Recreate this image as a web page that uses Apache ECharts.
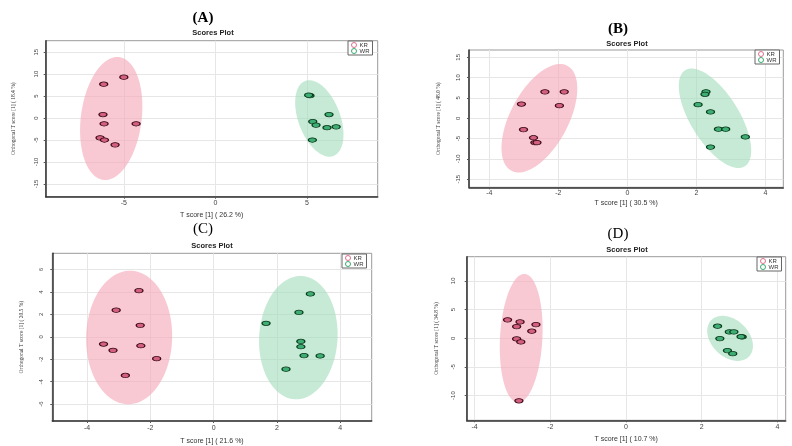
<!DOCTYPE html>
<html>
<head>
<meta charset="utf-8">
<script src="https://cdn.jsdelivr.net/npm/echarts@6/dist/echarts.min.js"></script>
<style>
html,body{margin:0;padding:0;background:#fff;}
#main{width:792px;height:446px;}
</style>
</head>
<body>
<div id="main"></div>
<script>
// scores, [t score, orthogonal t score]
var aKR = [[-5.0,9.3],[-6.1,7.7],[-6.14,0.8],[-6.08,-1.3],[-4.33,-1.3],[-6.3,-4.5],[-6.06,-5.0],[-5.48,-6.1]];
var aWR = [[5.17,5.1],[5.1,5.2],[6.21,0.8],[5.32,-0.8],[5.5,-1.6],[6.1,-2.2],[6.6,-2.0],[5.3,-5.0]];
var bKR = [[-2.39,6.5],[-1.83,6.5],[-3.07,3.5],[-1.97,3.1],[-3.01,-2.8],[-2.72,-4.8],[-2.68,-6.0],[-2.62,-6.0]];
var bWR = [[2.28,6.5],[2.25,5.9],[2.05,3.35],[2.41,1.55],[2.64,-2.7],[2.85,-2.7],[3.42,-4.6],[2.41,-7.1]];
var cKR = [[-2.36,4.12],[-3.08,2.38],[-2.32,1.03],[-3.48,-0.64],[-2.3,-0.79],[-3.18,-1.2],[-1.8,-1.94],[-2.79,-3.44]];
var cWR = [[3.06,3.83],[2.7,2.18],[1.66,1.21],[2.76,-0.41],[2.76,-0.88],[2.86,-1.67],[3.37,-1.7],[2.29,-2.88]];
var dKR = [[-3.13,3.2],[-2.8,2.84],[-2.38,2.38],[-2.89,2.03],[-2.49,1.22],[-2.89,-0.12],[-2.78,-0.64],[-2.83,-10.9]];
var dWR = [[2.42,2.09],[2.73,1.1],[2.85,1.1],[3.07,0.23],[3.04,0.26],[2.48,-0.07],[2.68,-2.16],[2.82,-2.69]];

// confidence ellipses: [cx, cy, rx, ry, shear]
var aEll = [[-5.69,-0.1,1.67,14.0,0.33],[5.68,-0.1,1.2,8.7,-0.55]];
var bEll = [[-2.55,0,0.92,13.35,0.6],[2.54,0,0.8,12.25,-0.68]];
var cEll = [[-2.67,-0.05,1.36,5.95,0.03],[2.68,-0.07,1.24,5.5,0.07]];
var dEll = [[-2.77,0,0.56,11.2,0.08],[2.75,-0.03,0.57,3.93,-0.2]];

var labels = ['(A)','(B)','(C)','(D)'];
var xNames = ['T score [1] ( 26.2 %)','T score [1] ( 30.5 %)','T score [1] ( 21.6 %)','T score [1] ( 10.7 %)'];
var yNames = ['Orthogonal T score [1] ( 18.4 %)','Orthogonal T score [1] ( 48.0 %)','Orthogonal T score [1] ( 20.5 %)','Orthogonal T score [1] ( 34.8 %)'];
var xTicks = [[-5,0,5],[-4,-2,0,2,4],[-4,-2,0,2,4],[-4,-2,0,2,4]];
var yTicks = [[-15,-10,-5,0,5,10,15],[-15,-10,-5,0,5,10,15],[-6,-4,-2,0,2,4,6],[-10,-5,0,5,10]];
var xRange = [[-9.27,8.87],[-4.59,4.52],[-5.1,5.0],[-4.21,4.22]];
var yRange = [[-17.9,17.6],[-17.0,16.8],[-7.5,7.45],[-14.3,14.2]];

var kr = [aKR,bKR,cKR,dKR];
var wr = [aWR,bWR,cWR,dWR];
var ells = [aEll,bEll,cEll,dEll];

// layout of the four panels
var boxes = [
	{left:45.7, top:40.7, width:332, height:156},
	{left:469, top:50, width:314.3, height:137.3},
	{left:52.3, top:253.3, width:319.4, height:169.4},
	{left:466.7, top:256.7, width:319, height:163.6}
];
var lab = [{x:203,y:11},{x:618,y:22},{x:203,y:222},{x:618,y:227}];
var sub = [{x:213,y:29},{x:627,y:39.5},{x:212,y:242},{x:627,y:246}];
var leg = [{x:348,y:41},{x:755,y:50},{x:342,y:254},{x:757,y:257}];
var yNameGap = [29,27,28,27];
var yLabMargin = [6,8,8,10];
var xLabMargin = [3,2,4,3];
var xNameGap = [15,12,17,15];

var pinkFill = 'rgba(245,170,188,0.65)';
var greenFill = 'rgba(160,220,185,0.6)';

function ellipseItem(params, api){
	var cx = api.value(0), cy = api.value(1), rx = api.value(2), ry = api.value(3), k = api.value(4);
	var pts = [];
	for(var i=0;i<90;i++){
		var t = i/90*Math.PI*2;
		pts.push(api.coord([cx + rx*Math.cos(t) + k*Math.sin(t), cy + ry*Math.sin(t)]));
	}
	return {
		type:'polygon',
		shape:{points:pts},
		style:{fill: params.dataIndex == 0 ? pinkFill : greenFill}
	};
}

var grid = [], xAxis = [], yAxis = [], title = [], legend = [], series = [];
for(var p=0;p<4;p++){
	grid.push({left:boxes[p].left, top:boxes[p].top, width:boxes[p].width, height:boxes[p].height,
		show:true, borderColor:'#9a9a9a', borderWidth:1, backgroundColor:'#fff'});
	xAxis.push({
		gridIndex:p, type:'value', min:xRange[p][0], max:xRange[p][1],
		name:xNames[p], nameLocation:'middle', nameGap:xNameGap[p],
		nameTextStyle:{fontSize:7, color:'#333', fontFamily:'Liberation Sans'},
		axisLine:{show:true, onZero:false, lineStyle:{color:'#333', width:1.5}},
		axisTick:{show:true, length:2, customValues:xTicks[p], lineStyle:{color:'#555'}},
		axisLabel:{fontSize:7, color:'#444', margin:xLabMargin[p], customValues:xTicks[p], fontFamily:'Liberation Sans'},
		splitLine:{show:true, lineStyle:{color:'#e6e6e6', width:1}}
	});
	yAxis.push({
		gridIndex:p, type:'value', min:yRange[p][0], max:yRange[p][1],
		name:yNames[p], nameLocation:'middle', nameGap:yNameGap[p], nameRotate:90,
		nameTextStyle:{fontSize:5.5, color:'#333', fontFamily:'Liberation Sans Narrow'},
		axisLine:{show:true, onZero:false, lineStyle:{color:'#333', width:1.5}},
		axisTick:{show:true, length:2, customValues:yTicks[p], lineStyle:{color:'#555'}},
		axisLabel:{fontSize:6, color:'#444', rotate:90, margin:yLabMargin[p], customValues:yTicks[p], fontFamily:'Liberation Sans'},
		splitLine:{show:true, lineStyle:{color:'#e6e6e6', width:1}}
	});
	title.push({text:labels[p], left:lab[p].x, top:lab[p].y, textAlign:'center', padding:0,
		textStyle:{fontFamily:'Liberation Serif', fontSize:15, fontWeight:(p<2?'bold':'normal'), color:'#000'}});
	title.push({text:'Scores Plot', left:sub[p].x, top:sub[p].y, textAlign:'center', padding:0,
		textStyle:{fontFamily:'Liberation Sans', fontSize:7.5, fontWeight:'bold', color:'#222'}});
	legend.push({
		left:leg[p].x, top:leg[p].y, orient:'vertical', itemWidth:5, itemHeight:5, itemGap:0,
		padding:[1,3,1,3], borderColor:'#666', borderWidth:1, backgroundColor:'#fff',
		textStyle:{fontSize:6, color:'#333', padding:[0,0,0,-2]},
		data:[
			{name:'KR', icon:'circle', itemStyle:{color:'transparent', borderColor:'#e0708c', borderWidth:1}},
			{name:'WR', icon:'circle', itemStyle:{color:'transparent', borderColor:'#3aaa70', borderWidth:1}}
		]
	});
	series.push({
		type:'custom', xAxisIndex:p, yAxisIndex:p, renderItem:ellipseItem,
		data:ells[p], silent:true, z:1, clip:true
	});
	series.push({
		name:'KR', type:'scatter', xAxisIndex:p, yAxisIndex:p, data:kr[p],
		symbol:'circle', symbolSize:[8,4.5], z:3,
		itemStyle:{color:'#d4607f', borderColor:'#3a0a18', borderWidth:1, opacity:1}
	});
	series.push({
		name:'WR', type:'scatter', xAxisIndex:p, yAxisIndex:p, data:wr[p],
		symbol:'circle', symbolSize:[8,4.5], z:3,
		itemStyle:{color:'#3fae74', borderColor:'#0a3a1c', borderWidth:1, opacity:1}
	});
}

var myChart = echarts.init(document.getElementById('main'), null, {renderer:'canvas'});
myChart.setOption({
	animation:false,
	backgroundColor:'#fff',
	title:title,
	legend:legend,
	grid:grid,
	xAxis:xAxis,
	yAxis:yAxis,
	series:series
});
</script>
</body>
</html>
